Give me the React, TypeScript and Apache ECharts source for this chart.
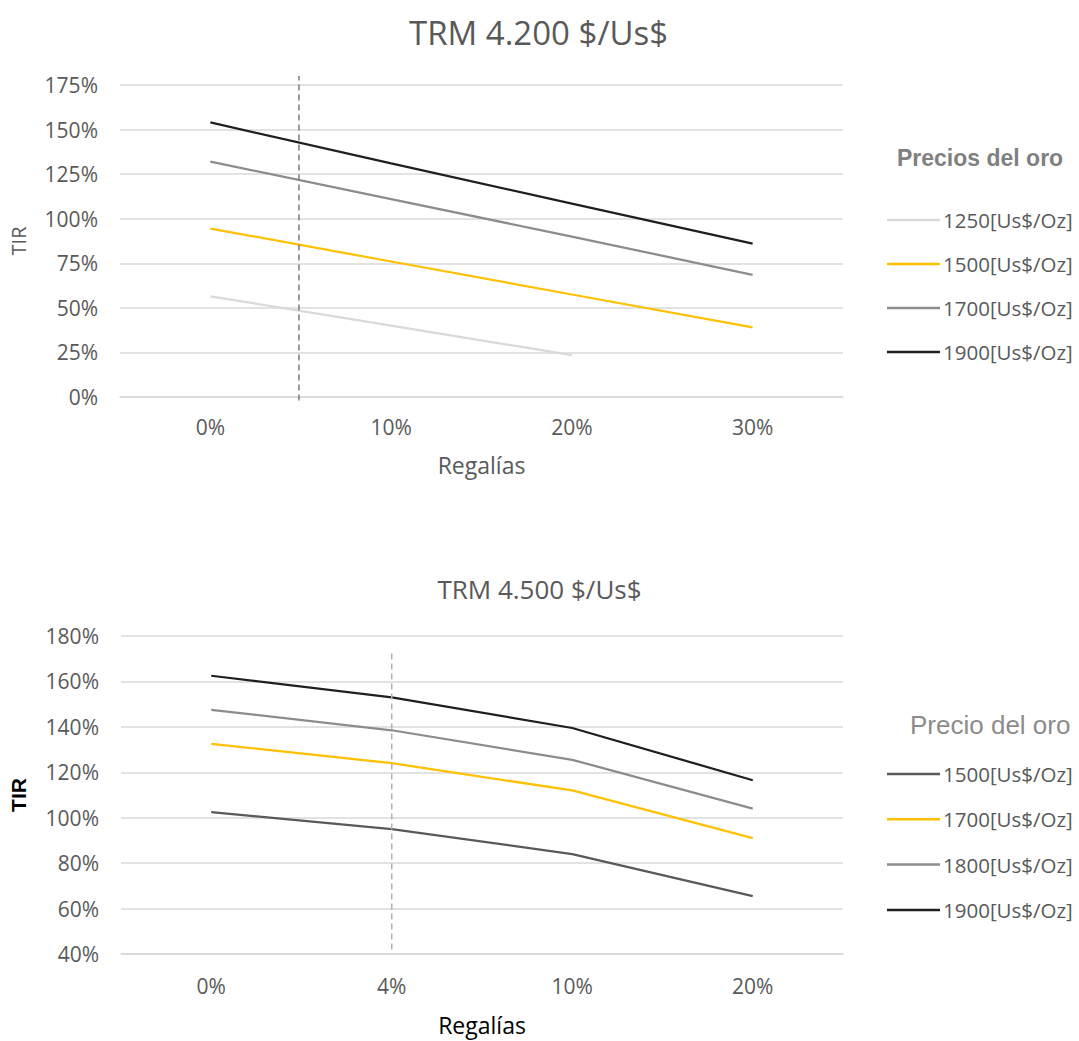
import React, { useEffect, useRef } from "react";
import * as echarts from "echarts";

const FONT = '"Open Sans", sans-serif';
const ARIAL = '"Liberation Sans", Arial, sans-serif';
const TEXT = "#595959";
const GRID = "#d9d9d9";

// TRM 4.200 $/Us$ — TIR (%) por regalía
const regaliasA = ["0%", "10%", "20%", "30%"];
const tirA1250 = [56.5, 40, 23.5];
const tirA1500 = [94.5, 76, 57.5, 39];
const tirA1700 = [132, 111, 90, 68.5];
const tirA1900 = [154, 131, 108.5, 86];
const yTicksA = [0, 175, 25];
const refRoyaltyA = 5; // regalía de referencia, en %
const refSpanA = [-2, 180];

// TRM 4.500 $/Us$ — TIR (%) por regalía
const regaliasB = ["0%", "4%", "10%", "20%"];
const tirB1500 = [102.5, 95, 84, 65.5];
const tirB1700 = [132.5, 124, 112, 91];
const tirB1800 = [147.5, 138.5, 125.5, 104];
const tirB1900 = [162.5, 153, 139.5, 116.5];
const yTicksB = [40, 180, 20];
const refRoyaltyB = "4%";
const refSpanB = [42, 173];

const lineSeries = (name: string, data: number[], color: string) => ({
  type: "line",
  name,
  data,
  symbol: "none",
  showSymbol: false,
  lineStyle: { color, width: 2.25 },
  itemStyle: { color },
});

const baseAxes = (
  cats: string[],
  ticks: number[],
  yName: { color: string; bold: boolean },
  xNameColor: string,
  labelMargin: number,
  nameGap: number
) => ({
  xAxis: {
    type: "category",
    data: cats,
    boundaryGap: true,
    axisLine: { show: true, lineStyle: { color: GRID, width: 1.5 } },
    axisTick: { show: false },
    axisLabel: { color: TEXT, fontSize: 21, fontFamily: FONT, margin: labelMargin },
    name: "Regalías",
    nameLocation: "middle",
    nameGap,
    nameTextStyle: { color: xNameColor, fontSize: 23, fontFamily: FONT },
  },
  yAxis: {
    type: "value",
    min: ticks[0],
    max: ticks[1],
    interval: ticks[2],
    axisLine: { show: false },
    axisTick: { show: false },
    axisLabel: { color: TEXT, fontSize: 21, fontFamily: FONT, margin: 22, formatter: "{value}%" },
    splitLine: { lineStyle: { color: GRID, width: 1.5 } },
    name: "TIR",
    nameLocation: "middle",
    nameGap: 92,
    nameRotate: 90,
    nameTextStyle: {
      color: yName.color,
      fontSize: yName.bold ? 21 : 20,
      fontWeight: yName.bold ? "bold" : "normal",
      fontFamily: yName.bold ? ARIAL : FONT,
    },
  },
});

const legendBase = (names: string[], top: number, gap: number) => ({
  orient: "vertical",
  left: 882,
  top,
  icon: "rect",
  itemWidth: 53,
  itemHeight: 2.5,
  itemGap: gap,
  selectedMode: false,
  data: names,
  textStyle: { color: TEXT, fontSize: 20.5, fontFamily: FONT, lineHeight: 24, padding: [0, 0, 0, -2] },
});

function buildTop() {
  const axes = baseAxes(regaliasA, yTicksA, { color: TEXT, bold: false }, TEXT, 19, 56);
  const names = ["1250[Us$/Oz]", "1500[Us$/Oz]", "1700[Us$/Oz]", "1900[Us$/Oz]"];
  return {
    animation: false,
    title: [
      {
        text: "TRM 4.200 $/Us$",
        left: 404,
        top: 11,
        textStyle: { color: TEXT, fontSize: 33, fontWeight: "normal", fontFamily: FONT },
      },
      {
        text: "Precios del oro",
        left: 892,
        top: 141,
        textStyle: { color: "#808080", fontSize: 23, fontWeight: "bold", fontFamily: ARIAL },
      },
    ],
    legend: legendBase(names, 203, 20),
    grid: { left: 120, right: 236, top: 85, bottom: 143 },
    xAxis: [axes.xAxis, { type: "value", min: -5, max: 35, show: false }],
    yAxis: axes.yAxis,
    series: [
      lineSeries(names[0], tirA1250, "#d9d9d9"),
      lineSeries(names[1], tirA1500, "#ffc000"),
      lineSeries(names[2], tirA1700, "#8c8c8c"),
      lineSeries(names[3], tirA1900, "#1f1f1f"),
      {
        type: "line",
        xAxisIndex: 1,
        clip: false,
        symbol: "none",
        silent: true,
        data: refSpanA.map((v) => [refRoyaltyA - 0.1, v]),
        lineStyle: { color: "#7a7a7a", width: 1.5, type: [6, 4] },
      },
    ],
  };
}

function buildBottom() {
  const axes = baseAxes(regaliasB, yTicksB, { color: "#000000", bold: true }, "#000000", 21, 59);
  const names = ["1500[Us$/Oz]", "1700[Us$/Oz]", "1800[Us$/Oz]", "1900[Us$/Oz]"];
  return {
    animation: false,
    title: [
      {
        text: "TRM 4.500 $/Us$",
        left: "center",
        top: 31,
        textStyle: { color: TEXT, fontSize: 26, fontWeight: "normal", fontFamily: FONT },
      },
      {
        text: "Precio del oro",
        left: 905,
        top: 167,
        textStyle: { color: "#8c8c8c", fontSize: 26, fontWeight: "normal", fontFamily: ARIAL },
      },
    ],
    legend: legendBase(names, 217, 21.3),
    grid: { left: 120, right: 236, top: 96, bottom: 83 },
    xAxis: axes.xAxis,
    yAxis: axes.yAxis,
    series: [
      lineSeries(names[0], tirB1500, "#595959"),
      lineSeries(names[1], tirB1700, "#ffc000"),
      lineSeries(names[2], tirB1800, "#8c8c8c"),
      lineSeries(names[3], tirB1900, "#1f1f1f"),
      {
        type: "line",
        clip: false,
        symbol: "none",
        silent: true,
        data: refSpanB.map((v) => [refRoyaltyB, v]),
        lineStyle: { color: "#b0b0b0", width: 1.5, type: [6, 4] },
      },
    ],
  };
}

function Chart({ build, top, height }: { build: () => any; top: number; height: number }) {
  const ref = useRef<HTMLDivElement>(null);
  useEffect(() => {
    if (!ref.current) return;
    const chart = echarts.init(ref.current, undefined, { renderer: "svg" });
    chart.setOption(build());
    return () => chart.dispose();
  }, [build]);
  return <div ref={ref} style={{ position: "absolute", left: 0, top, width: 1079, height }} />;
}

export default function App() {
  return (
    <div
      style={{
        position: "fixed",
        left: 0,
        top: 0,
        width: 1079,
        height: 1041,
        background: "#ffffff",
      }}
    >
      <Chart build={buildTop} top={0} height={540} />
      <Chart build={buildBottom} top={540} height={501} />
    </div>
  );
}
